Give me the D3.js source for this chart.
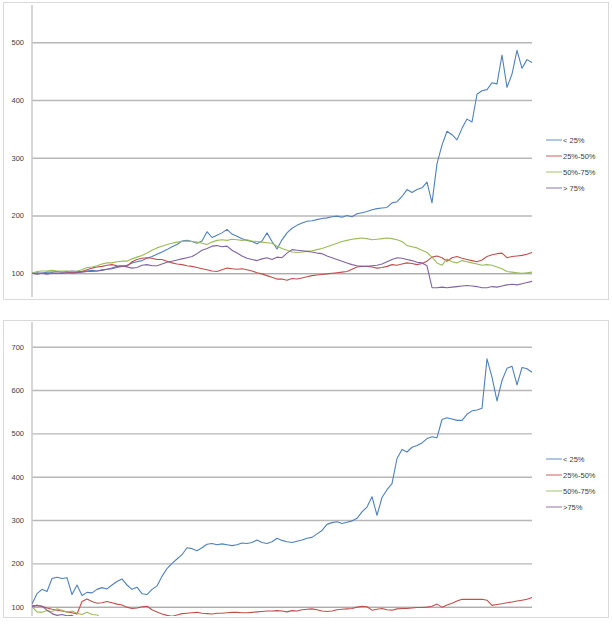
<!DOCTYPE html>
<html>
<head>
<meta charset="utf-8">
<script src="https://cdn.jsdelivr.net/npm/d3@7"></script>
<style>
  body { margin: 0; background: #fff; }
  text { font-family: "Liberation Sans", Arial, sans-serif; }
</style>
</head>
<body>
<script>
// legend labels and axis ticks
var labelsTop = ["< 25%", "25%-50%", "50%-75%", "> 75%"];
var labelsBottom = ["< 25%", "25%-50%", "50%-75%", ">75%"];
var ticksTop = [100, 200, 300, 400, 500];
var ticksBottom = [100, 200, 300, 400, 500, 600, 700];
var colors = ["#4f81bd", "#c0504d", "#9bbb59", "#8064a2"];

// top chart, index value (start = 100)
var topQ1 = [100,101,100,102,102,103,102,103,104,103,103,104,105,104,106,107,108,110,112,114,
  118,120,122,126,129,133,137,141,146,150,156,157,155,152,156,172,162,166,170,176,
  168,164,160,157,155,151,156,170,155,142,158,170,178,183,187,190,191,193,195,196,
  198,199,197,200,198,203,205,207,210,212,213,214,222,224,233,245,240,245,248,258,
  222,290,322,346,340,331,351,367,362,410,416,418,430,428,478,422,445,486,455,470,465];
var topQ2 = [100,99,100,99,100,100,100,101,102,101,103,106,109,111,112,114,115,113,112,112,
  120,124,126,127,126,124,124,121,118,116,115,113,112,110,108,106,104,103,106,109,
  108,107,108,106,104,101,99,96,93,90,90,88,91,90,92,94,96,97,98,99,
  100,101,102,103,107,111,112,112,111,109,110,112,115,114,116,118,117,115,117,121,
  128,130,127,121,127,129,126,124,122,120,123,129,132,134,135,127,129,130,131,133,136];
var topQ3 = [100,103,104,104,105,104,104,104,103,104,106,110,111,113,116,118,118,120,121,121,
  125,128,131,135,140,144,147,150,152,154,155,156,155,154,152,150,154,157,158,157,
  159,158,157,158,156,155,154,153,152,147,143,140,137,136,137,138,139,141,143,146,
  149,152,155,157,159,160,161,160,158,159,160,161,160,158,155,148,146,144,140,136,
  128,118,114,125,120,118,122,120,118,116,114,115,114,111,108,103,102,101,100,101,102];
var topQ4 = [100,99,100,99,100,100,100,101,100,101,102,103,103,104,105,107,109,112,113,111,
  109,110,114,115,113,113,116,119,121,123,125,127,129,134,140,143,147,148,146,147,
  140,135,130,126,124,122,125,127,124,128,127,135,141,140,139,138,137,135,134,130,
  127,124,121,118,115,113,112,112,113,114,116,120,124,127,126,124,122,119,118,113,
  75,75,76,75,76,77,78,79,78,77,75,75,77,76,78,80,81,80,82,84,86];

// bottom chart
var botQ1 = [106,130,140,135,165,168,165,167,128,150,126,133,132,140,144,141,150,158,164,150,
  140,145,130,128,140,148,170,188,200,210,220,236,234,229,236,244,246,243,245,243,
  241,243,247,246,248,254,248,246,250,258,253,250,248,251,254,258,260,268,276,290,
  294,296,292,295,298,304,319,330,354,311,352,370,384,442,463,457,468,472,478,488,
  492,490,532,536,533,530,530,544,552,554,558,672,630,575,622,650,655,612,652,649,641];
var botQ2 = [102,103,101,97,94,92,90,88,86,83,112,118,112,108,109,112,109,106,104,99,
  96,97,100,101,93,88,83,80,78,81,84,85,86,87,85,84,83,85,85,86,
  87,87,86,86,87,88,89,90,90,91,90,88,91,90,93,94,95,93,90,89,
  90,93,94,95,96,99,101,100,92,94,96,93,92,95,96,96,97,98,98,99,
  101,106,99,104,108,113,117,117,117,117,117,115,103,105,107,109,111,113,115,117,121];
var botQ3 = [100,88,87,91,88,95,92,87,90,85,82,87,82,81,72];
var botQ4 = [100,103,101,92,84,80,82,79,80,72];

var svg = d3.select("body").append("svg")
    .attr("width", 612)
    .attr("height", 625);

var x = d3.scaleLinear().domain([0, 100]).range([32, 532]);

function drawChart(opts) {
    var g = svg.append("g");

    // outer frame
    g.append("rect")
        .attr("x", 3.5).attr("y", opts.frameTop + 0.5)
        .attr("width", 605).attr("height", opts.frameBottom - opts.frameTop)
        .attr("fill", "#fff")
        .attr("stroke", "#d9d9d9");

    var y = d3.scaleLinear().domain(opts.domain).range(opts.range);

    var axis = d3.axisLeft(y)
        .tickValues(opts.ticks)
        .tickSize(-(x(100) - x(0)))
        .tickPadding(8)
        .tickFormat(d3.format("d"));

    var ag = g.append("g")
        .attr("transform", "translate(" + x(0) + ",0)")
        .call(axis);
    ag.select(".domain").remove();
    ag.selectAll(".tick line")
        .attr("stroke", function(d) { return d === 100 ? "#8a8a8a" : "#b8b8b8"; })
        .attr("stroke-width", function(d) { return d === 100 ? 1 : 1.4; });
    ag.selectAll(".tick text")
        .attr("fill", "#404040")
        .style("font-size", "7.5px");

    // vertical axis line
    g.append("line")
        .attr("x1", x(0)).attr("x2", x(0))
        .attr("y1", opts.plotTop).attr("y2", opts.plotBottom)
        .attr("stroke", "#c8c8c8")
        .attr("stroke-width", 1.5);

    var clipId = "clip" + opts.frameTop;
    svg.append("clipPath").attr("id", clipId)
      .append("rect")
        .attr("x", x(0)).attr("y", opts.plotTop)
        .attr("width", 520).attr("height", opts.plotBottom - opts.plotTop);

    var line = d3.line()
        .x(function(d, i) { return x(i); })
        .y(function(d) { return y(d); });

    g.append("g").attr("clip-path", "url(#" + clipId + ")")
      .selectAll("path")
      .data(opts.series)
      .enter().append("path")
        .attr("d", line)
        .attr("fill", "none")
        .attr("stroke", function(d, i) { return colors[i]; })
        .attr("stroke-width", 1.1)
        .attr("stroke-linejoin", "round");

    // legend
    var lg = g.selectAll(".legend")
        .data(opts.labels)
        .enter().append("g")
        .attr("transform", function(d, i) { return "translate(546," + (opts.legendTop + i * 16) + ")"; });
    lg.append("line")
        .attr("x1", 0).attr("x2", 16)
        .attr("stroke", function(d, i) { return colors[i]; })
        .attr("stroke-opacity", 0.75)
        .attr("stroke-width", 1.2);
    lg.append("text")
        .attr("x", 17).attr("dy", "0.35em")
        .attr("fill", "#404040")
        .style("font-size", "7.5px")
        .text(function(d) { return d; });
}

drawChart({
    frameTop: 2, frameBottom: 299,
    plotTop: 5, plotBottom: 297,
    domain: [100, 500], range: [273.3, 42.3],
    ticks: ticksTop,
    series: [topQ1, topQ2, topQ3, topQ4],
    labels: labelsTop,
    legendTop: 140
});

drawChart({
    frameTop: 320, frameBottom: 617,
    plotTop: 322, plotBottom: 616,
    domain: [100, 700], range: [606.7, 346.7],
    ticks: ticksBottom,
    series: [botQ1, botQ2, botQ3, botQ4],
    labels: labelsBottom,
    legendTop: 459
});
</script>
</body>
</html>
